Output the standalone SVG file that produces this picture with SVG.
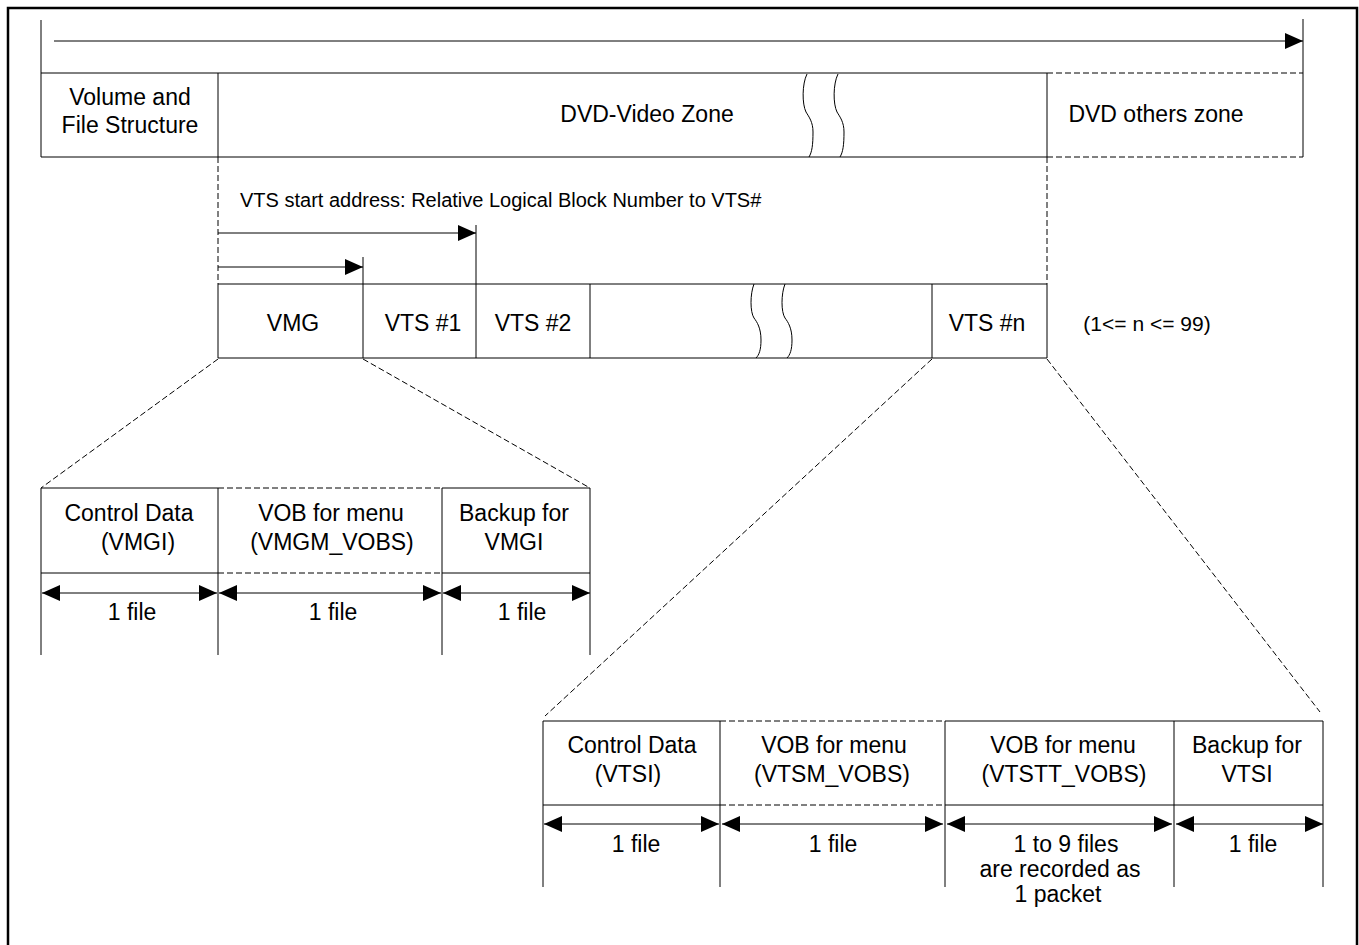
<svg xmlns="http://www.w3.org/2000/svg" width="1359" height="945" viewBox="0 0 1359 945">
<defs>
<style>
.ln{stroke:#000;stroke-width:1;fill:none}
.ds{stroke:#000;stroke-width:1;fill:none;stroke-dasharray:6 3}
.t{font-family:"Liberation Sans",Arial,sans-serif;font-size:23px;fill:#000;text-anchor:middle}
.s{font-size:20px;text-anchor:start}
.arr{stroke:#000;stroke-width:1;fill:none;marker-end:url(#ah)}
.bi{stroke:#000;stroke-width:1;fill:none;marker-end:url(#ah);marker-start:url(#ah)}
</style>
<marker id="ah" markerUnits="userSpaceOnUse" markerWidth="18" markerHeight="16" refX="18" refY="8" orient="auto-start-reverse" viewBox="0 0 18 16">
<path d="M0,0 L18,8 L0,16 z" fill="#000"/>
</marker>
</defs>
<rect width="1359" height="945" fill="#fff"/>
<path d="M8,946 V8 H1357 V946" fill="none" stroke="#000" stroke-width="2.5"/>

<g id="top-axis">
<line class="ln" x1="41" y1="20" x2="41" y2="157"/>
<line class="ln" x1="1303" y1="19" x2="1303" y2="157"/>
<line class="arr" x1="54" y1="41" x2="1303" y2="41"/>
</g>

<g id="volume-file-structure">
<path class="ln" d="M41,73 H218 V157 H41"/>
<text class="t" x="130" y="105">Volume and</text>
<text class="t" x="130" y="133">File Structure</text>
</g>

<g id="dvd-video-zone">
<path class="ln" d="M218,73 H1047 V157 H218"/>
<path class="ln" d="M807,74 C802,84 802,104 806,112 C809,117 813,122 813,132 C813,145 812,152 809,157"/>
<path class="ln" d="M838,74 C833,84 833,104 837,112 C840,117 844,122 844,132 C844,145 843,152 840,157"/>
<text class="t" x="647" y="122">DVD-Video Zone</text>
</g>

<g id="dvd-others-zone">
<path class="ds" d="M1047,73 H1303 M1047,157 H1303"/>
<text class="t" x="1156" y="122">DVD others zone</text>
</g>

<g id="vts-start-address">
<text class="t s" x="240" y="207">VTS start address: Relative Logical Block Number to VTS#</text>
</g>

<g id="vmg">
<path class="ln" d="M218,284 H363 V358 H218 Z"/>
<text class="t" x="293" y="331">VMG</text>
</g>
<g id="vts1">
<path class="ln" d="M363,284 H476 V358 H363"/>
<text class="t" x="423" y="331">VTS #1</text>
</g>
<g id="vts2">
<path class="ln" d="M476,284 H590 V358 H476"/>
<text class="t" x="533" y="331">VTS #2</text>
</g>
<g id="vts-gap">
<path class="ln" d="M590,284 H932 M590,358 H932"/>
<path class="ln" d="M754,284 C750,294 750,312 754,318 C757,322 761,328 761,340 C761,350 759,355 756,358"/>
<path class="ln" d="M785,284 C781,294 781,312 785,318 C788,322 792,328 792,340 C792,350 790,355 787,358"/>
</g>
<g id="vtsn">
<path class="ln" d="M932,284 H1047 V358 H932 Z"/>
<text class="t" x="987" y="331">VTS #n</text>
</g>
<g id="n-range">
<text class="t" x="1147" y="331" style="font-size:21px">(1&lt;= n &lt;= 99)</text>
</g>

<g id="vmg-detail">
<path class="ln" d="M41,488 H218 M442,488 H590 M41,573 H218 M442,573 H590"/>
<path class="ds" d="M218,488 H442 M218,573 H442"/>
<path class="ln" d="M41,488 V655 M218,488 V655 M442,488 V655 M590,488 V655"/>
<text class="t" x="129" y="521">Control Data</text>
<text class="t" x="138" y="550">(VMGI)</text>
<text class="t" x="331" y="521">VOB for menu</text>
<text class="t" x="332" y="550">(VMGM_VOBS)</text>
<text class="t" x="514" y="521">Backup for</text>
<text class="t" x="514" y="550">VMGI</text>
<line class="bi" x1="42" y1="593" x2="217" y2="593"/>
<line class="bi" x1="219" y1="593" x2="441" y2="593"/>
<line class="bi" x1="443" y1="593" x2="590" y2="593"/>
<text class="t" x="132" y="620">1 file</text>
<text class="t" x="333" y="620">1 file</text>
<text class="t" x="522" y="620">1 file</text>
</g>

<g id="vts-detail">
<path class="ln" d="M543,721 H720 M945,721 H1323 M543,805 H720 M945,805 H1323"/>
<path class="ds" d="M720,721 H945 M720,805 H945"/>
<path class="ln" d="M543,721 V887 M720,721 V887 M945,721 V887 M1174,721 V887 M1323,721 V887"/>
<text class="t" x="632" y="753">Control Data</text>
<text class="t" x="628" y="782">(VTSI)</text>
<text class="t" x="834" y="753">VOB for menu</text>
<text class="t" x="832" y="782">(VTSM_VOBS)</text>
<text class="t" x="1063" y="753">VOB for menu</text>
<text class="t" x="1064" y="782">(VTSTT_VOBS)</text>
<text class="t" x="1247" y="753">Backup for</text>
<text class="t" x="1247" y="782">VTSI</text>
<line class="bi" x1="544" y1="824" x2="719" y2="824"/>
<line class="bi" x1="722" y1="824" x2="943" y2="824"/>
<line class="bi" x1="947" y1="824" x2="1172" y2="824"/>
<line class="bi" x1="1176" y1="824" x2="1323" y2="824"/>
<text class="t" x="636" y="852">1 file</text>
<text class="t" x="833" y="852">1 file</text>
<text class="t" x="1066" y="852">1 to 9 files</text>
<text class="t" x="1060" y="877">are recorded as</text>
<text class="t" x="1058" y="902">1 packet</text>
<text class="t" x="1253" y="852">1 file</text>
</g>

<g id="connectors">
<path class="ds" d="M218,157 V284 M1047,157 V284"/>
<line class="arr" x1="218" y1="233" x2="476" y2="233"/>
<line class="ln" x1="476" y1="225" x2="476" y2="284"/>
<line class="arr" x1="218" y1="267" x2="363" y2="267"/>
<line class="ln" x1="363" y1="257" x2="363" y2="284"/>
<path class="ds" d="M218,359 L41,488 M363,359 L590,488"/>
<path class="ds" d="M932,359 L545,716 M1047,359 L1320,712"/>
</g>
</svg>
